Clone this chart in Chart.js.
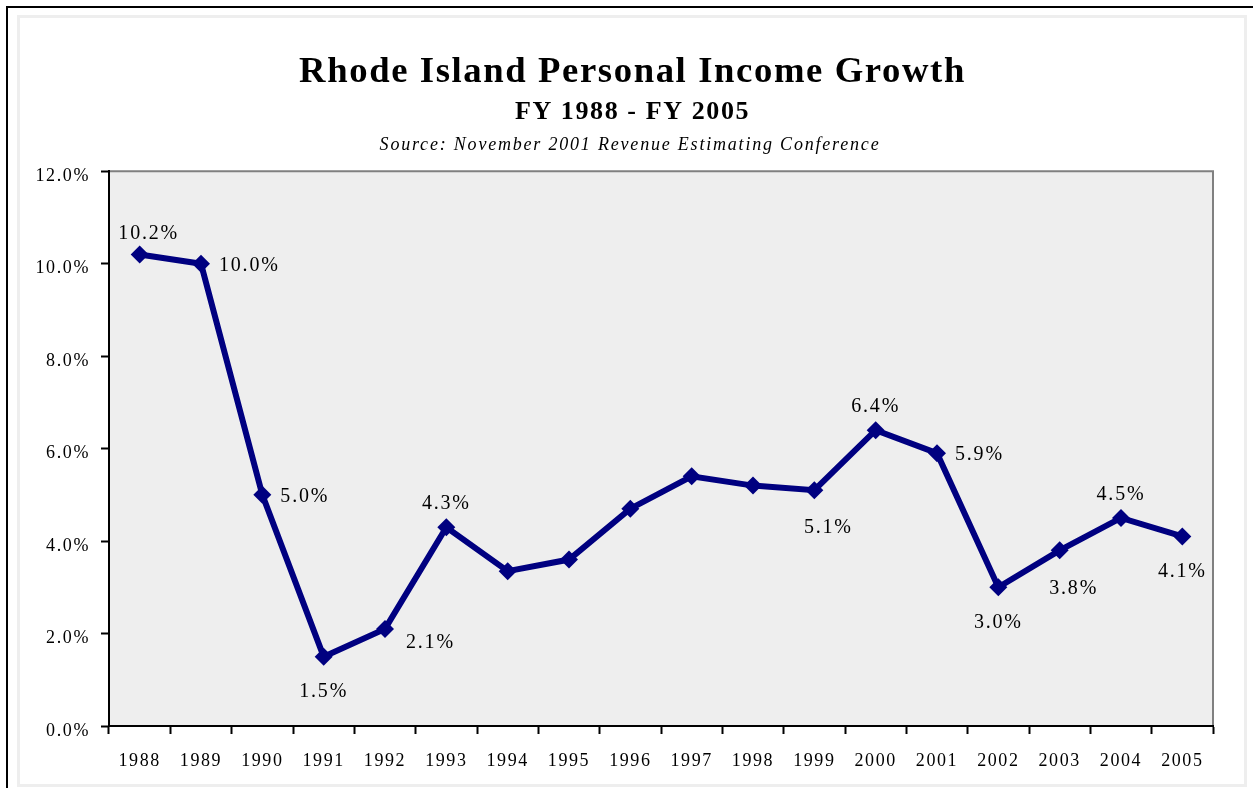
<!DOCTYPE html>
<html>
<head>
    <title>Rhode Island Personal Income Growth</title>
    <script src="https://cdn.jsdelivr.net/npm/chart.js"></script>
    <style>
        body { margin: 0; background: #fff; overflow: hidden; }
        #outer { position: absolute; left: 6px; top: 6px; width: 1300px; height: 900px;
                 border-left: 2px solid #000; border-top: 2px solid #000; }
        #inner { position: absolute; left: 17px; top: 15px; width: 1224px; height: 766px;
                 border: 3px solid #eeeeee; }
        #myChart { position: absolute; left: 0; top: 0; }
    </style>
</head>
<body>
    <div id="outer"></div>
    <div id="inner"></div>
    <canvas id="myChart" width="1253" height="788"></canvas>

    <script>
        var years = ["1988", "1989", "1990", "1991", "1992", "1993", "1994", "1995", "1996",
                     "1997", "1998", "1999", "2000", "2001", "2002", "2003", "2004", "2005"];
        var growth = [10.2, 10.0, 5.0, 1.5, 2.1, 4.3, 3.35, 3.6, 4.7,
                      5.4, 5.2, 5.1, 6.4, 5.9, 3.0, 3.8, 4.5, 4.1];
        // which points carry a value label
        var labelled = [true, true, true, true, true, true, false, false, false,
                        false, false, true, true, true, true, true, true, true];
        var labelSide = ["aboveRight", "right", "right", "below", "rightBelow", "above", null, null, null,
                         null, null, "belowRight", "above", "right", "below", "belowRight", "above", "below"];
        var yTicks = [0, 2, 4, 6, 8, 10, 12];

        var serif = "'Liberation Serif', 'Times New Roman', serif";
        var navy = "#000080";

        // the canvas state gets reset on resize, so spacing is reapplied each pass
        function spaced(chart) { chart.ctx.letterSpacing = "1.6px"; }

        // grey plot background plus the thin grey top/right frame
        var plotBox = {
            id: "plotBox",
            beforeUpdate: spaced,
            beforeLayout: spaced,
            afterLayout: function(chart) {
                // centre the heading over the plot rather than the whole canvas
                chart.boxes.forEach(function(b) {
                    if (b.position === "top") b.left = 52;
                });
            },
            beforeDraw: function(chart) {
                spaced(chart);
                var a = chart.chartArea, ctx = chart.ctx;
                ctx.save();
                ctx.fillStyle = "#eeeeee";
                ctx.fillRect(a.left, a.top, a.right - a.left, a.bottom - a.top);
                ctx.strokeStyle = "#808080";
                ctx.lineWidth = 2;
                ctx.beginPath();
                ctx.moveTo(a.left, a.top);
                ctx.lineTo(a.right, a.top);
                ctx.lineTo(a.right, a.bottom);
                ctx.stroke();
                ctx.restore();
            },
            afterDraw: function(chart) {
                var ctx = chart.ctx;
                ctx.save();
                ctx.letterSpacing = "1.8px";
                ctx.font = "italic 18px " + serif;
                ctx.fillStyle = "#000";
                ctx.textAlign = "center";
                ctx.textBaseline = "middle";
                ctx.fillText("Source: November 2001 Revenue Estimating Conference", 630, 145);
                ctx.restore();
            }
        };

        // value labels next to selected points
        var pointLabels = {
            id: "pointLabels",
            afterDatasetsDraw: function(chart) {
                var ctx = chart.ctx;
                var pts = chart.getDatasetMeta(0).data;
                ctx.save();
                ctx.letterSpacing = "1.8px";
                ctx.font = "20px " + serif;
                ctx.fillStyle = "#000";
                ctx.textBaseline = "middle";
                pts.forEach(function(p, i) {
                    if (!labelled[i]) return;
                    var txt = growth[i].toFixed(1) + "%";
                    var side = labelSide[i], x = p.x, y = p.y;
                    ctx.textAlign = "center";
                    if (side === "above") { y -= 23; }
                    else if (side === "aboveRight") { x += 9; y -= 21; }
                    else if (side === "below") { y += 35; }
                    else if (side === "belowRight") { x += 14; y += 38; }
                    else if (side === "right") { ctx.textAlign = "left"; x += 18; y += 2; }
                    else if (side === "rightBelow") { ctx.textAlign = "left"; x += 21; y += 14; }
                    ctx.fillText(txt, x, y);
                });
                ctx.restore();
            }
        };

        var ctx = document.getElementById("myChart").getContext("2d");
        new Chart(ctx, {
            type: "line",
            data: {
                labels: years,
                datasets: [{
                    label: "Personal Income Growth",
                    data: growth,
                    borderColor: navy,
                    backgroundColor: navy,
                    borderWidth: 6,
                    pointStyle: "rectRot",
                    pointRadius: 9,
                    pointBorderWidth: 0,
                    pointBackgroundColor: navy,
                    tension: 0
                }]
            },
            options: {
                responsive: false,
                animation: false,
                layout: { padding: { left: 0, right: 40, top: 0, bottom: 0 } },
                plugins: {
                    legend: { display: false },
                    tooltip: { enabled: false },
                    title: {
                        display: true,
                        text: "Rhode Island Personal Income Growth",
                        color: "#000",
                        font: { family: serif, size: 36.7, weight: "bold", lineHeight: 1.2 },
                        padding: { top: 51, bottom: 0 }
                    },
                    subtitle: {
                        display: true,
                        text: "FY 1988 - FY 2005",
                        color: "#000",
                        font: { family: serif, size: 26, weight: "bold", lineHeight: 1.2 },
                        padding: { top: 2, bottom: 43 }
                    }
                },
                scales: {
                    x: {
                        offset: true,
                        grid: {
                            offset: true,
                            drawOnChartArea: false,
                            drawTicks: true,
                            tickLength: 8,
                            tickColor: "#000",
                            tickWidth: 2
                        },
                        border: { color: "#000", width: 2 },
                        ticks: {
                            color: "#000",
                            padding: 16,
                            maxRotation: 0,
                            autoSkip: false,
                            font: { family: serif, size: 18 }
                        },
                        afterFit: function(scale) { scale.height = 62; }
                    },
                    y: {
                        min: 0,
                        max: 12,
                        afterBuildTicks: function(scale) {
                            scale.ticks = yTicks.map(function(v) { return { value: v }; });
                        },
                        grid: {
                            drawOnChartArea: false,
                            tickLength: 8,
                            tickColor: "#000",
                            tickWidth: 2
                        },
                        border: { color: "#000", width: 2 },
                        ticks: {
                            color: "#000",
                            padding: 11,
                            labelOffset: 5,
                            font: { family: serif, size: 18 },
                            callback: function(v) { return v.toFixed(1) + "%"; }
                        },
                        afterFit: function(scale) { scale.width = 109; }
                    }
                }
            },
            plugins: [plotBox, pointLabels]
        });
    </script>
</body>
</html>
